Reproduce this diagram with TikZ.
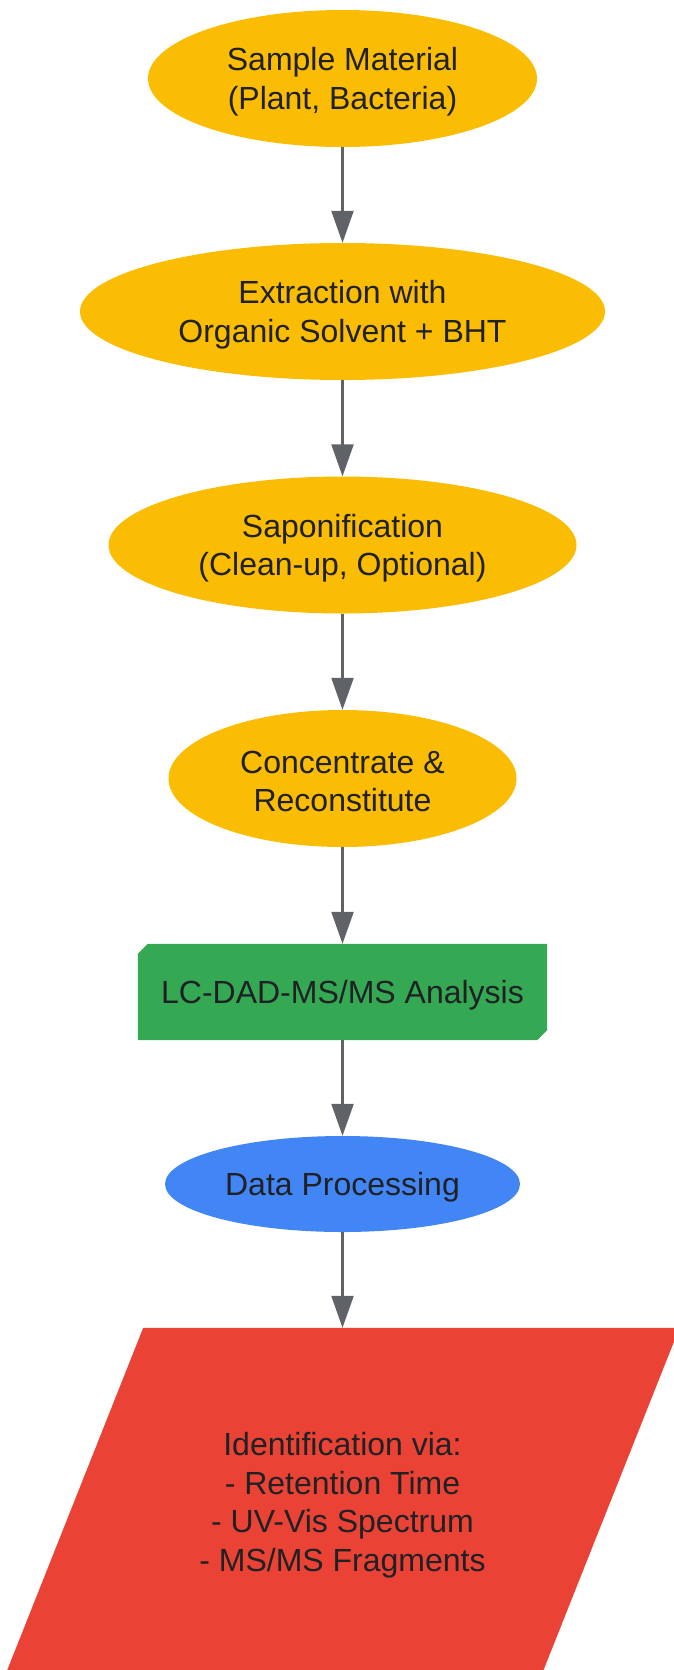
\documentclass[tikz,border=0pt]{standalone}
\usepackage{fontspec}
\setmainfont{Liberation Sans}
\usetikzlibrary{shapes.geometric,arrows.meta,backgrounds}
\definecolor{gyellow}{HTML}{FBBC04}
\definecolor{ggreen}{HTML}{34A853}
\definecolor{gblue}{HTML}{4285F4}
\definecolor{gred}{HTML}{EA4335}
\definecolor{gtext}{HTML}{202124}
\definecolor{garrow}{HTML}{5F6368}
\begin{document}
\begin{tikzpicture}[x=1pt,y=-1pt,
  lbl/.style={text=gtext,font=\fontsize{32}{38.4}\selectfont,align=center,inner sep=0pt},
  oval/.style={ellipse,inner sep=0pt,fill=gyellow,minimum width=#1,minimum height=137pt},
  arr/.style={draw=garrow,line width=2.3pt,-{Triangle[length=32pt,width=22pt]}}]
\useasboundingbox (0,0) rectangle (674,1670);
\node[oval=389] (s1) at (342.5,78.5) {};
\node[oval=525] (s2) at (342.5,311.5) {};
\node[oval=468] (s3) at (342.5,545) {};
\node[oval=348] (s4) at (342.5,778.5) {};
\node[rectangle,inner sep=0pt,minimum width=409pt,minimum height=96pt] (lc) at (342.5,992) {};
\node[ellipse,inner sep=0pt,fill=gblue,minimum width=355pt,minimum height=96pt] (dp) at (342.5,1184) {};
\node[rectangle,inner sep=0pt,minimum width=300pt,minimum height=348pt] (id) at (342.5,1502) {};
\node[lbl] (t1) at ([yshift=-3.2pt]s1.center) {Sample Material\\(Plant, Bacteria)};
\node[lbl] (t2) at ([yshift=-3.2pt]s2.center) {Extraction with\\Organic Solvent + BHT};
\node[lbl] (t3) at ([yshift=-3.2pt]s3.center) {Saponification\\(Clean-up, Optional)};
\node[lbl] (t4) at ([yshift=-3.2pt]s4.center) {Concentrate \&\\Reconstitute};
\node[lbl] (t5) at ([yshift=-3.2pt]lc.center) {LC-DAD-MS/MS Analysis};
\node[lbl] (t6) at ([yshift=-3.2pt]dp.center) {Data Processing};
\node[lbl] (t7) at ([yshift=-3.2pt]id.center) {Identification via:\\- Retention Time\\- UV-Vis Spectrum\\- MS/MS Fragments};
\begin{scope}[on background layer]
\fill[ggreen] ([xshift=10pt]lc.north west) -- (lc.north east) -- ([yshift=10pt]lc.south east) -- ([xshift=-10pt]lc.south east) -- (lc.south west) -- ([yshift=-10pt]lc.north west) -- cycle;
\clip (0,0) rectangle (674,1670);
\fill[gred] ([xshift=-199.3pt]id.north) -- ([xshift=337pt]id.north) -- ([xshift=198.6pt]id.south) -- ([xshift=-337.7pt]id.south) -- cycle;
\end{scope}
\draw[arr] (s1) -- (s2);
\draw[arr] (s2) -- (s3);
\draw[arr] (s3) -- (s4);
\draw[arr] (s4) -- (lc);
\draw[arr] (lc) -- (dp);
\draw[arr] (dp) -- (id);
\end{tikzpicture}
\end{document}
